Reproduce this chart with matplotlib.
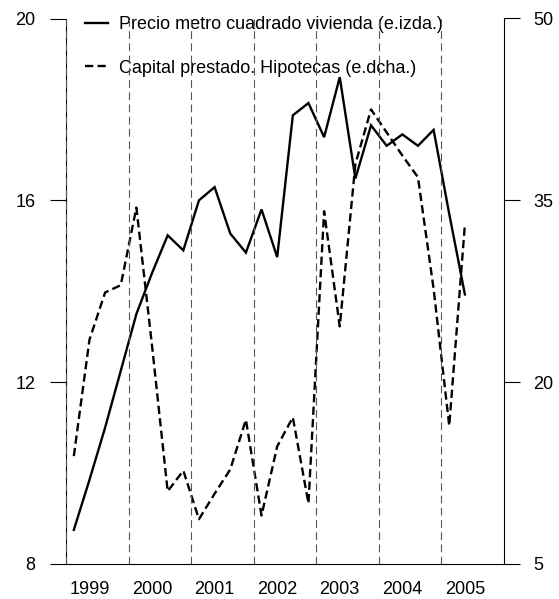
import matplotlib
matplotlib.use("Agg")
import matplotlib.pyplot as plt
import numpy as np

plt.rcParams['font.family'] = ['Liberation Sans', 'DejaVu Sans']

years = [1999, 2000, 2001, 2002, 2003, 2004, 2005]
precio = [8.75, 9.85, 11.0, 12.25,
          13.5, 14.4, 15.23, 14.9,
          16.0, 16.29, 15.27, 14.85,
          15.8, 14.75, 17.87, 18.14,
          17.39, 18.71, 16.48, 17.65,
          17.2, 17.45, 17.2, 17.55,
          15.7, 13.93]
capital = [13.9, 23.5, 27.4, 28.0,
           34.4, 23.0, 11.0, 12.7,
           8.7, 10.8, 12.8, 16.9,
           9.0, 14.7, 17.1, 10.0,
           34.1, 24.6, 38.0, 42.5,
           40.6, 38.7, 36.9, 27.7,
           16.4, 33.0]
left_ticks = [8, 12, 16, 20]
right_ticks = [5, 20, 35, 50]
label_precio = "Precio metro cuadrado vivienda (e.izda.)"
label_capital = "Capital prestado. Hipotecas (e.dcha.)"

n = len(precio)
x = np.array([years[0] + (i + 0.5) / 4 for i in range(n)])

fig = plt.figure(figsize=(5.59, 5.99), dpi=100)
ax = fig.add_axes([66/559, 1-564/599, (504-66)/559, (564-18.5)/599])
ax2 = ax.twinx()

l1, = ax.plot(x, precio, color='black', lw=1.7, solid_joinstyle='miter')
l2, = ax2.plot(x, capital, color='black', lw=1.7, linestyle=(0, (3.5, 1.8)))

ax.set_xlim(years[0], years[-1] + 1)
ax.set_ylim(left_ticks[0], left_ticks[-1])
ax2.set_ylim(right_ticks[0], right_ticks[-1])

for y in years:
    ax2.axvline(y, color='#555555', lw=0.8, linestyle=(0, (7, 4)), zorder=10)

ax.set_yticks(left_ticks)
ax2.set_yticks(right_ticks)
ax.set_xticks([y + 0.375 for y in years])
ax.set_xticklabels([str(y) for y in years])

for a in (ax, ax2):
    a.spines['top'].set_visible(False)
    a.spines['left'].set_linewidth(0.8)
    a.spines['right'].set_linewidth(0.8)
    a.spines['bottom'].set_linewidth(0.8)
ax.spines['right'].set_visible(False)
ax2.spines['left'].set_visible(False)
ax2.spines['bottom'].set_visible(False)

fs = 13
ax.tick_params(axis='y', direction='out', length=11.5, width=0.8, pad=10.5, labelsize=fs)
ax2.tick_params(axis='y', direction='out', length=11.5, width=0.8, pad=9.4, labelsize=fs)
ax.tick_params(axis='x', length=0, pad=12, labelsize=fs)

leg = ax2.legend([l1, l2], [label_precio, label_capital], loc='upper left',
                 bbox_to_anchor=(0.027, 1.018), frameon=False, fontsize=fs,
                 handlelength=1.28, handletextpad=0.61, labelspacing=1.48,
                 borderaxespad=0)
leg.set_zorder(5)

fig.savefig("out.png", dpi=100)
